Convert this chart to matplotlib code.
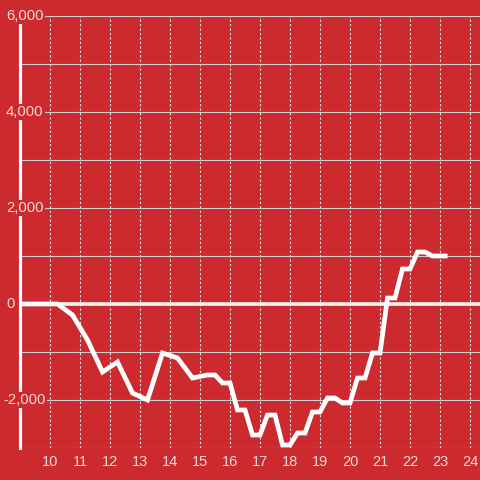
import matplotlib
matplotlib.use("Agg")
import matplotlib.pyplot as plt
import matplotlib.transforms as mtransforms

hours = [9.0, 10.25, 10.75, 11.25, 11.75, 12.25, 12.75, 13.25, 13.75, 14.25, 14.75,
         15.25, 15.5, 15.75, 16.0, 16.25, 16.5, 16.75, 17.0, 17.25, 17.5, 17.75, 18.0,
         18.25, 18.5, 18.75, 19.0, 19.25, 19.5, 19.75, 20.0, 20.25, 20.5, 20.75, 21.0,
         21.25, 21.5, 21.75, 22.0, 22.25, 22.5, 22.75, 23.0, 23.25]
values = [0, 0, -229, -750, -1417, -1208, -1854, -2000, -1021, -1125, -1542,
          -1479, -1479, -1646, -1646, -2208, -2208, -2729, -2729, -2313, -2313, -2938, -2938,
          -2688, -2688, -2250, -2250, -1958, -1958, -2063, -2063, -1542, -1542, -1021, -1021,
          125, 125, 729, 729, 1083, 1083, 1000, 1000, 1000]

x_ticks = list(range(10, 25))
x_labels = [str(t) for t in x_ticks]
y_grid = list(range(-3000, 6001, 1000))
y_label_vals = [-2000, 0, 2000, 4000, 6000]
y_labels = ["-2,000", "0", "2,000", "4,000", "6,000"]

BG = "#cc2a2f"
TXT = "#f6d6d6"

plt.rcParams['font.family'] = ['Liberation Sans', 'DejaVu Sans']

fig = plt.figure(figsize=(4.8, 4.8), dpi=100, facecolor=BG)
ax = fig.add_axes([20 / 480, 32 / 480, 460 / 480, 432 / 480])
ax.set_facecolor(BG)

ax.set_xlim(9, 9 + 460 / 30)
ax.set_ylim(-3000, 6000)

ax.set_xticks(x_ticks)
ax.set_xticklabels(x_labels)
ax.set_yticks(y_grid)
ax.set_yticklabels([])
ax.tick_params(axis='x', length=0, pad=5, labelsize=10.5, labelcolor=TXT)
ax.tick_params(axis='y', length=0)

ax.grid(axis='y', color='#cfcfcf', linewidth=0.8, linestyle='-')
ax.grid(axis='x', color='#e6e6e6', linewidth=0.8, linestyle=(0, (2, 2)))
ax.set_axisbelow(True)

for s in ['top', 'right', 'bottom']:
    ax.spines[s].set_visible(False)
ax.spines['left'].set_color('white')
ax.spines['left'].set_linewidth(2.3)
ax.spines['left'].set_zorder(3)

ax.axhline(0, color='#f4f4f4', linewidth=2.6, zorder=1.9)
ax.plot(hours, values, color='white', linewidth=3.4, zorder=2.5,
        solid_joinstyle='miter', solid_capstyle='butt')

trans = mtransforms.blended_transform_factory(fig.transFigure, ax.transData)
for v, lab in zip(y_label_vals, y_labels):
    x0 = 3 / 480 if lab.startswith('-') else 6 / 480
    ax.text(x0, v, lab, transform=trans, ha='left', va='center', fontsize=10.7,
            color=TXT, zorder=10, clip_on=False,
            bbox=dict(facecolor=BG, edgecolor='none', pad=1.0))

fig.savefig("out.png", dpi=100, facecolor=BG)
